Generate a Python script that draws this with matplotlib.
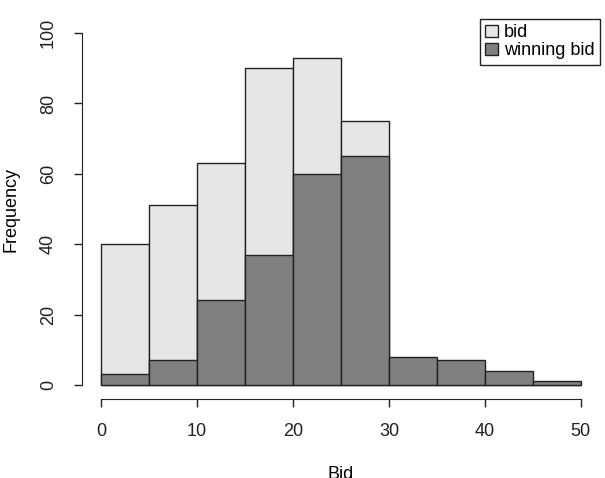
import matplotlib
matplotlib.use("Agg")
import matplotlib.pyplot as plt
from matplotlib.patches import Patch

# histogram bins (width 5) and counts
bin_left = [0, 5, 10, 15, 20, 25, 30, 35, 40, 45]
bid_counts = [40, 51, 63, 90, 93, 75, 0, 0, 0, 0]
win_counts = [3, 7, 24, 37, 60, 65, 8, 7, 4, 1]
x_ticks = [0, 10, 20, 30, 40, 50]
y_ticks = [0, 20, 40, 60, 80, 100]

plt.rcParams['font.family'] = ['Liberation Sans', 'DejaVu Sans']

fig = plt.figure(figsize=(6.05, 4.78), dpi=100)
ax = fig.add_axes([82 / 605, 1 - 399 / 478, 518 / 605, 380 / 478])

light = "#e6e6e6"
dark = "#808080"
edge = "#222222"
fs = 13

ax.bar(bin_left, bid_counts, width=5, align="edge", color=light, edgecolor=edge, linewidth=1)
ax.bar(bin_left, win_counts, width=5, align="edge", color=dark, edgecolor=edge, linewidth=1)

ax.set_xlim(-2, 52)
ax.set_ylim(-4, 104)
ax.set_xticks(x_ticks)
ax.set_yticks(y_ticks)
ax.spines['top'].set_visible(False)
ax.spines['right'].set_visible(False)
ax.spines['bottom'].set_bounds(0, 50)
ax.spines['left'].set_bounds(0, 100)
for s in ('bottom', 'left'):
    ax.spines[s].set_color(edge)
ax.tick_params(axis='x', direction='out', length=6, width=1, pad=11, labelsize=fs, colors=edge)
ax.tick_params(axis='y', direction='out', length=6, width=1, pad=12, labelsize=fs, colors=edge)
for lab in ax.get_yticklabels():
    lab.set_rotation(90)
    lab.set_va('center')

ax.set_xlabel("Bid", fontsize=fs, labelpad=19)
ax.set_ylabel("Frequency", fontsize=fs, labelpad=15)

handles = [Patch(facecolor=light, edgecolor=edge), Patch(facecolor=dark, edgecolor=edge)]
leg = ax.legend(handles, ["bid", "winning bid"], loc="upper right", fancybox=False,
                framealpha=1, edgecolor=edge, borderaxespad=0, handlelength=0.7,
                handleheight=0.7, handletextpad=0.35, labelspacing=0.05, fontsize=fs,
                borderpad=0.3)
leg.get_frame().set_linewidth(1)

fig.savefig("out.png", dpi=100)
